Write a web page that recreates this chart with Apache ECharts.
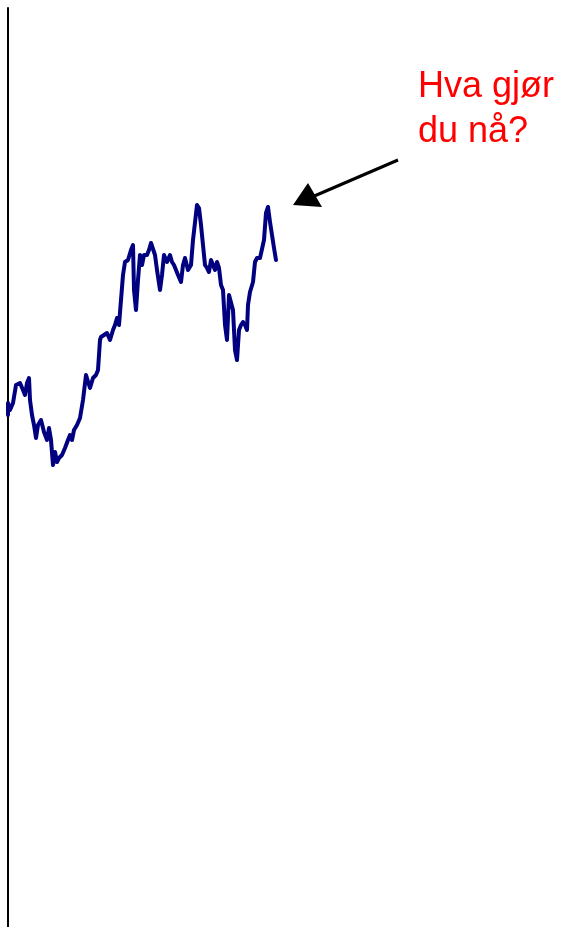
<!DOCTYPE html>
<html>
<head>
<meta charset="utf-8">
<script src="https://cdn.jsdelivr.net/npm/echarts@6/dist/echarts.min.js"></script>
<style>
  html, body { margin: 0; padding: 0; background: #ffffff; }
  #chart { width: 565px; height: 927px; }
</style>
</head>
<body>
<div id="chart"></div>
<script>
  // dager fra start (x) og kurs (y)
  var days = [
    0,0,2,5,8,12,15,17,19,21,
    22,24,26,28,30,33,36,39,41,43,
    45,47,49,51,54,57,60,62,64,66,
    69,72,75,78,80,82,85,88,90,92,
    93,96,99,102,105,107,109,111,113,115,
    117,120,123,125,126,128,130,132,134,136,
    139,141,143,145,147,149,152,154,156,159,
    162,164,166,168,170,173,175,177,180,183,
    185,187,189,191,193,195,197,199,201,203,
    205,207,209,211,213,215,217,219,221,223,
    225,227,229,231,233,235,237,239,240,242,
    245,247,249,252,254,256,258,260,262,264,
    266,268
  ];
  var prices = [
    512,524,517,524,542,544,537,532,544,549,
    527,512,502,489,502,507,495,487,499,487,
    462,475,465,469,472,479,487,492,487,497,
    502,509,527,552,552,539,549,552,557,587,
    590,592,594,587,597,602,609,602,627,652,
    665,667,677,682,637,617,647,672,662,672,
    672,677,684,682,672,657,637,652,672,665,
    672,665,662,657,652,645,662,669,657,662,
    687,687,722,719,702,682,662,659,655,667,
    667,657,665,659,642,637,602,587,632,634,
    617,577,567,597,602,605,602,597,622,635,
    645,665,669,669,667,687,714,720,705,692,
    679,667
  ];
  var annotation = 'Hva gjør\ndu nå?';

  var lineData = days.map(function (d, i) { return [d, prices[i]]; });

  var chart = echarts.init(document.getElementById('chart'));
  chart.setOption({
    animation: false,
    backgroundColor: '#ffffff',
    grid: { left: 8, right: 0, top: 8, bottom: 0 },
    xAxis: {
      type: 'value', min: 0, max: 557,
      show: false
    },
    yAxis: {
      type: 'value', min: 0, max: 919,
      axisLine: { show: true, lineStyle: { color: '#000000', width: 2 } },
      axisTick: { show: false },
      axisLabel: { show: false },
      splitLine: { show: false }
    },
    series: [{
      type: 'line',
      data: lineData,
      symbol: 'none',
      lineStyle: { color: '#000080', width: 4, join: 'round', cap: 'round' }
    }],
    graphic: [
      {
        type: 'text', left: 418, top: 65,
        style: {
          text: annotation,
          font: '36px "Liberation Sans", Arial, sans-serif',
          lineHeight: 45,
          fill: '#ff0000'
        }
      },
      {
        type: 'line',
        shape: { x1: 398, y1: 160, x2: 312, y2: 197 },
        style: { stroke: '#000000', lineWidth: 3 }
      },
      {
        type: 'polygon',
        shape: { points: [[293, 205], [308, 183], [322, 207]] },
        style: { fill: '#000000' }
      }
    ]
  });
</script>
</body>
</html>
